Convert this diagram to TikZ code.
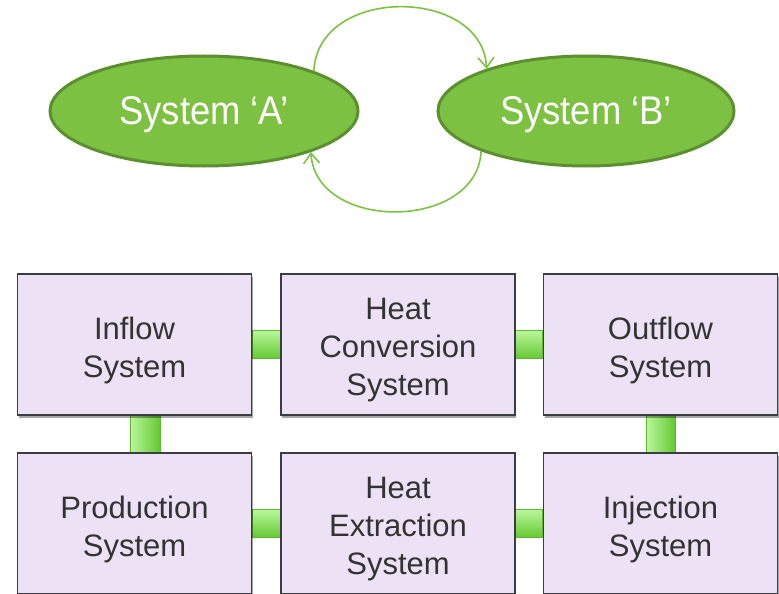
\documentclass[tikz,border=0pt]{standalone}
\usepackage{fontspec}
\setmainfont{Liberation Sans}
\newfontfamily\ellfont[FakeStretch=0.91]{Liberation Sans}
\usetikzlibrary{shapes.geometric,arrows.meta,shadows,backgrounds,calc}
\definecolor{ellfill}{HTML}{7DC143}
\definecolor{elldraw}{HTML}{5B8F2F}
\definecolor{arcgreen}{HTML}{7DC242}
\definecolor{boxfill}{HTML}{EDE1F5}
\definecolor{boxdraw}{HTML}{3C3C44}
\definecolor{boxtext}{HTML}{333333}
\definecolor{barlight}{HTML}{B9F79C}
\definecolor{bardark}{HTML}{66C832}
\definecolor{baredge}{HTML}{5FB82E}
\tikzset{
  sysell/.style={ellipse, draw=elldraw, fill=ellfill, line width=3pt, inner sep=0pt,
    minimum height=110pt, text=white, text depth=0pt,
    font=\ellfont\fontsize{40}{44}\selectfont},
  sysbox/.style={rectangle, draw=boxdraw, fill=boxfill, line width=1.5pt,
    minimum width=234pt, minimum height=141pt, inner sep=0pt, align=center,
    text=boxtext, font=\fontsize{31}{38}\selectfont, text depth=0pt,
    drop shadow={shadow xshift=1pt, shadow yshift=-3pt, opacity=.35, fill=black}},
  twoline/.style={sysbox, text height=66.6pt},
  threeline/.style={sysbox, text height=101.5pt},
  cyclearc/.style={draw=arcgreen, line width=1.6pt, -{Straight Barb[length=10pt,width=16pt,line width=1.6pt]}},
  hbar/.style={top color=barlight, bottom color=bardark, draw=baredge, line width=0.6pt},
  vbar/.style={left color=barlight, right color=bardark, draw=baredge, line width=0.6pt},
}
\begin{document}
\begin{tikzpicture}[x=1pt,y=-1pt]
\useasboundingbox (0,0) rectangle (779,594);
\clip (0,0) rectangle (779,594);
% ellipses
\node[sysell, minimum width=308pt] (A) at (204,111) {System ‘A’};
\node[sysell, minimum width=296pt] (B) at (586,111) {System ‘B’};
% arcs
\draw[cyclearc] (A.20) .. controls +(4,-86) and +(-4,-82) .. (B.157);
\draw[cyclearc] (B.201) .. controls +(-4,80) and +(5,80) .. (A.339);
% boxes
\node[twoline]   (inflow)  at (134.5,344.5) {Inflow\\System};
\node[threeline] (conv)    at (398,344.5)   {Heat\\Conversion\\System};
\node[twoline]   (outflow) at (660.5,344.5) {Outflow\\System};
\node[twoline]   (prod)    at (134.5,523.5) {Production\\System};
\node[threeline] (extr)    at (398,523.5)   {Heat\\Extraction\\System};
\node[twoline]   (inj)     at (660.5,523.5) {Injection\\System};
% connector bars
\begin{scope}[on background layer]
\path[hbar] ($(inflow.east)+(0,-14)$) rectangle ($(conv.west)+(0,14)$);
\path[hbar] ($(conv.east)+(0,-14)$) rectangle ($(outflow.west)+(0,14)$);
\path[hbar] ($(prod.east)+(0,-14)$) rectangle ($(extr.west)+(0,14)$);
\path[hbar] ($(extr.east)+(0,-14)$) rectangle ($(inj.west)+(0,14)$);
\path[vbar] ($(inflow.south)+(-4.5,0)$) rectangle ($(prod.north)+(25.5,0)$);
\path[vbar] ($(outflow.south)+(-14.5,0)$) rectangle ($(inj.north)+(14.5,0)$);
\end{scope}
\end{tikzpicture}
\end{document}
